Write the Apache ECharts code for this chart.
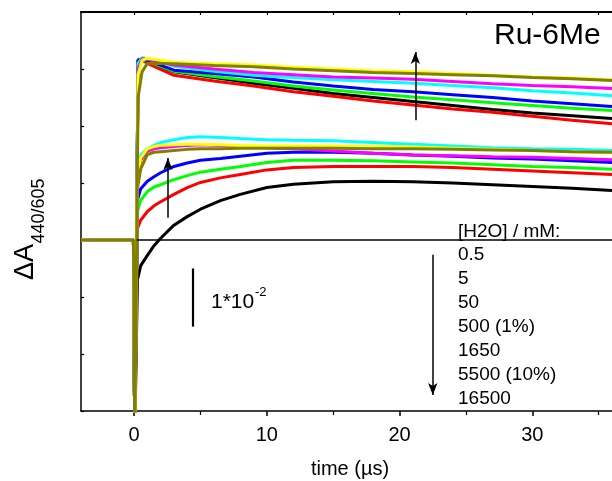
<!DOCTYPE html>
<html><head><meta charset="utf-8">
<script src="https://cdn.jsdelivr.net/npm/echarts@6/dist/echarts.min.js"></script>
<style>html,body{margin:0;padding:0;background:#fff}#c{width:612px;height:481px}</style>
</head><body><div id="c"></div>
<script>
// ---- data (ΔA in units of 1e-2) ----
const traceNames = ['black', 'red', 'green', 'blue', 'cyan', 'magenta', 'yellow', 'olive'];
const traceColors = ['#000000', '#ff0000', '#00ff00', '#0000ff', '#00ffff', '#ff00ff', '#ffff00', '#808000'];

const tUpper = [-4, -0.05, 0.05, 0.3, 0.6, 1, 3, 6, 9, 12, 15, 18, 21, 24, 27, 30, 33, 36];
const upperBlack   = [0, 0, -3.5, 3.15, 3.17, 3.12, 2.95, 2.85, 2.75, 2.66, 2.57, 2.50, 2.43, 2.36, 2.29, 2.23, 2.18, 2.13];
const upperRed     = [0, 0, -3.5, 3.17, 3.16, 3.10, 2.89, 2.79, 2.70, 2.60, 2.52, 2.44, 2.37, 2.30, 2.24, 2.17, 2.10, 2.04];
const upperGreen   = [0, 0, -3.5, 3.16, 3.17, 3.14, 2.96, 2.87, 2.79, 2.70, 2.63, 2.57, 2.51, 2.46, 2.41, 2.36, 2.31, 2.27];
const upperBlue    = [0, 0, -3.5, 3.15, 3.18, 3.15, 2.98, 2.92, 2.86, 2.77, 2.70, 2.64, 2.60, 2.55, 2.50, 2.44, 2.39, 2.34];
const upperCyan    = [0, 0, -3.5, 3.10, 3.20, 3.18, 3.05, 2.96, 2.89, 2.85, 2.81, 2.78, 2.75, 2.71, 2.67, 2.62, 2.58, 2.53];
const upperMagenta = [0, 0, -3.5, 3.00, 3.18, 3.17, 3.07, 3.00, 2.94, 2.90, 2.86, 2.84, 2.82, 2.78, 2.74, 2.71, 2.69, 2.66];
const upperYellow  = [0, 0, -3.5, 2.90, 3.15, 3.19, 3.12, 3.09, 3.07, 3.03, 3.00, 2.97, 2.95, 2.92, 2.89, 2.86, 2.84, 2.81];
const upperOlive   = [0, 0, -3.5, 2.50, 2.95, 3.10, 3.09, 3.06, 3.04, 3.00, 2.97, 2.94, 2.92, 2.90, 2.88, 2.85, 2.83, 2.80];

const tLower = [-4, -0.05, 0.05, 0.25, 0.5, 1, 1.5, 2, 3, 4, 5, 6.5, 8, 10, 12, 15, 18, 21, 24, 27, 30, 33, 36];
const lowerBlack   = [0, 0, -3.5, -0.70, -0.45, -0.27, -0.10, 0.03, 0.26, 0.41, 0.54, 0.69, 0.80, 0.92, 0.98, 1.02, 1.03, 1.02, 1.00, 0.97, 0.94, 0.91, 0.87];
const lowerRed     = [0, 0, -3.5, 0.20, 0.35, 0.50, 0.60, 0.67, 0.80, 0.92, 1.01, 1.09, 1.15, 1.23, 1.27, 1.29, 1.29, 1.29, 1.27, 1.24, 1.21, 1.18, 1.15];
const lowerGreen   = [0, 0, -3.5, 0.50, 0.70, 0.85, 0.93, 0.97, 1.06, 1.13, 1.19, 1.24, 1.29, 1.36, 1.40, 1.40, 1.39, 1.37, 1.35, 1.32, 1.29, 1.27, 1.24];
const lowerBlue    = [0, 0, -3.5, 0.70, 0.90, 1.03, 1.11, 1.18, 1.29, 1.35, 1.40, 1.43, 1.47, 1.52, 1.54, 1.54, 1.52, 1.49, 1.47, 1.44, 1.42, 1.39, 1.36];
const lowerCyan    = [0, 0, -3.5, 1.20, 1.49, 1.60, 1.66, 1.71, 1.76, 1.80, 1.81, 1.80, 1.78, 1.76, 1.75, 1.74, 1.71, 1.68, 1.65, 1.62, 1.60, 1.59, 1.57];
const lowerMagenta = [0, 0, -3.5, 1.10, 1.40, 1.56, 1.60, 1.62, 1.64, 1.66, 1.67, 1.66, 1.64, 1.62, 1.60, 1.56, 1.52, 1.49, 1.48, 1.46, 1.45, 1.43, 1.41];
const lowerYellow  = [0, 0, -3.5, 1.15, 1.44, 1.60, 1.64, 1.66, 1.67, 1.68, 1.68, 1.67, 1.66, 1.65, 1.65, 1.65, 1.64, 1.63, 1.61, 1.59, 1.57, 1.55, 1.53];
const lowerOlive   = [0, 0, -3.5, 0.90, 1.25, 1.50, 1.54, 1.55, 1.57, 1.59, 1.60, 1.60, 1.61, 1.61, 1.61, 1.61, 1.60, 1.60, 1.59, 1.58, 1.57, 1.55, 1.54];

const upperSets = [upperBlack, upperRed, upperGreen, upperBlue, upperCyan, upperMagenta, upperYellow, upperOlive];
const lowerSets = [lowerBlack, lowerRed, lowerGreen, lowerBlue, lowerCyan, lowerMagenta, lowerYellow, lowerOlive];

const xMajorTicks = [0, 10, 20, 30];
const xMinorTicks = [5, 15, 25, 35];
const xTopTicks = [0, 5, 10, 15, 20, 25, 30, 35];

const concTitle = '[H2O] / mM:';
const concLabels = ['0.5', '5', '50', '500 (1%)', '1650', '5500 (10%)', '16500'];

// annotation geometry in data coordinates (t in µs, ΔA in 1e-2)
const zeroLine = [[0.2, 0], [36, 0]];
const arrowUpper = [[21.19, 2.10], [21.19, 3.30]];
const arrowLower = [[2.55, 0.39], [2.55, 1.44]];
const arrowConc = [[22.5, -0.26], [22.5, -2.72]];
const scaleBar = [[4.41, -0.5], [4.41, -1.52]];

// ---- chart ----
const FONT = '"Liberation Sans", Arial, sans-serif';
const chart = echarts.init(document.getElementById('c'), null, {renderer: 'canvas'});

function pairs(t, v) { return t.map((x, i) => [x, v[i]]); }

const series = [];
lowerSets.forEach((v, i) => series.push({
  name: traceNames[i] + ' (lower)', type: 'line', data: pairs(tLower, v),
  showSymbol: false, symbol: 'none', lineStyle: {color: traceColors[i], width: 3},
  itemStyle: {color: traceColors[i]}, animation: false, silent: true, z: 2
}));
upperSets.forEach((v, i) => series.push({
  name: traceNames[i] + ' (upper)', type: 'line', data: pairs(tUpper, v),
  showSymbol: false, symbol: 'none', lineStyle: {color: traceColors[i], width: 3},
  itemStyle: {color: traceColors[i]}, animation: false, silent: true, z: 2
}));

function seg(p, w, arrow) {
  return [
    {coord: p[0], symbol: 'none', lineStyle: {width: w, color: '#000', type: 'solid'}},
    {coord: p[1], symbol: arrow ? 'arrow' : 'none', symbolSize: [7, 12]}
  ];
}

series.push({
  name: 'annot', type: 'line', data: [], silent: true, animation: false, z: 5,
  markLine: {
    silent: true, animation: false, symbol: ['none', 'none'],
    label: {show: false}, emphasis: {disabled: true},
    lineStyle: {color: '#000', type: 'solid', width: 1.5},
    data: [
      seg(zeroLine, 1.5, false),
      seg(arrowUpper, 1.5, true),
      seg(arrowLower, 1.5, true),
      seg(arrowConc, 1.5, true),
      seg(scaleBar, 2.2, false)
    ]
  }
});

const graphics = [];
const legendX = 458;
graphics.push({type: 'text', x: legendX, y: 231.5, style: {text: concTitle, fontSize: 19, fontFamily: FONT, fill: '#000', align: 'left', verticalAlign: 'middle'}});
concLabels.forEach((s, i) => graphics.push({
  type: 'text', x: legendX, y: 255 + i * 24,
  style: {text: s, fontSize: 19, fontFamily: FONT, fill: '#000', align: 'left', verticalAlign: 'middle'}
}));
graphics.push({type: 'text', x: 494, y: 36, style: {text: 'Ru-6Me', fontSize: 30, fontFamily: FONT, fill: '#000', align: 'left', verticalAlign: 'middle'}});
graphics.push({type: 'text', x: 211, y: 302.5, style: {text: '1*10', fontSize: 21, fontFamily: FONT, fill: '#000', align: 'left', verticalAlign: 'middle'}});
graphics.push({type: 'text', x: 255, y: 292, style: {text: '-2', fontSize: 13, fontFamily: FONT, fill: '#000', align: 'left', verticalAlign: 'middle'}});
graphics.push({type: 'text', x: 350, y: 469, style: {text: 'time (µs)', fontSize: 20, fontFamily: FONT, fill: '#000', align: 'center', verticalAlign: 'middle'}});
graphics.push({type: 'text', x: 26, y: 262, rotation: Math.PI / 2, style: {text: 'ΔA', fontSize: 27, fontFamily: FONT, fill: '#000', align: 'center', verticalAlign: 'middle'}});
graphics.push({type: 'text', x: 39.5, y: 211, rotation: Math.PI / 2, style: {text: '440/605', fontSize: 18, fontFamily: FONT, fill: '#000', align: 'center', verticalAlign: 'middle'}});

const gridBox = {left: 81, top: 12, width: 539, height: 399, containLabel: false};

chart.setOption({
  animation: false,
  backgroundColor: '#fff',
  textStyle: {fontFamily: FONT},
  grid: [Object.assign({}, gridBox), Object.assign({}, gridBox)],
  xAxis: [
    {
      type: 'value', gridIndex: 0, position: 'bottom', min: -4, max: 36,
      axisLine: {show: true, onZero: false, lineStyle: {color: '#000', width: 1.5}},
      axisTick: {show: true, inside: false, length: 5, customValues: xMajorTicks, lineStyle: {color: '#000', width: 1.5}},
      axisLabel: {show: true, customValues: xMajorTicks, fontSize: 20, color: '#000', margin: 14, fontFamily: FONT},
      splitLine: {show: false}
    },
    {
      type: 'value', gridIndex: 0, position: 'top', min: -4, max: 36,
      axisLine: {show: true, onZero: false, lineStyle: {color: '#000', width: 2}},
      axisTick: {show: true, inside: true, length: 3, customValues: xTopTicks, lineStyle: {color: '#000', width: 1.2}},
      axisLabel: {show: false},
      splitLine: {show: false}
    },
    {
      type: 'value', gridIndex: 1, position: 'bottom', min: -4, max: 36,
      axisLine: {show: false, onZero: false},
      axisTick: {show: true, inside: false, length: 4, customValues: xMinorTicks, lineStyle: {color: '#000', width: 1.2}},
      axisLabel: {show: false},
      splitLine: {show: false}
    }
  ],
  yAxis: [
    {
      type: 'value', gridIndex: 0, min: -3, max: 4, interval: 1,
      axisLine: {show: true, onZero: false, lineStyle: {color: '#000', width: 1.5}},
      axisTick: {show: true, inside: true, length: 3, lineStyle: {color: '#000', width: 1.2}},
      axisLabel: {show: false},
      splitLine: {show: false}
    },
    {
      type: 'value', gridIndex: 1, min: -3, max: 4, interval: 1,
      show: false
    }
  ],
  graphic: graphics,
  series: series
});
</script>
</body></html>
